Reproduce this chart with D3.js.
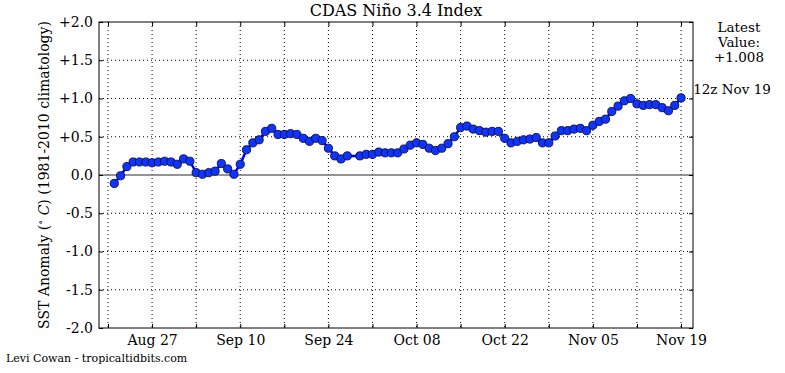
<!DOCTYPE html>
<html>
<head>
<meta charset="utf-8">
<script src="https://cdn.jsdelivr.net/npm/d3@7"></script>
<style>
  body { margin: 0; background: #fff; }
  text { font-family: "DejaVu Serif", serif; fill: #000; }
</style>
</head>
<body>
<div id="main"></div>
<script>
// daily values starting on firstDay (null = missing day)
const firstDay = "2018-08-21";
const anomaly = [
  -0.11, -0.01, 0.11, 0.17, 0.17, 0.17, 0.16, 0.17, 0.18, 0.17,
  0.14, 0.21, 0.18, 0.03, 0.01, 0.03, 0.05, 0.15, 0.08, 0.01,
  0.14, 0.33, 0.42, 0.46, 0.57, 0.61, 0.53, 0.53, 0.54, 0.53,
  0.48, 0.44, 0.48, 0.45, 0.35, 0.25, 0.21, 0.25, null, 0.25,
  0.27, 0.27, 0.30, 0.29, 0.29, 0.29, 0.34, 0.39, 0.42, 0.40,
  0.35, 0.32, 0.35, 0.41, 0.50, 0.62, 0.64, 0.60, 0.58, 0.56,
  0.57, 0.57, 0.48, 0.42, 0.44, 0.46, 0.47, 0.49, 0.42, 0.42,
  0.51, 0.58, 0.58, 0.60, 0.61, 0.58, 0.65, 0.70, 0.73, 0.83,
  0.90, 0.97, 1.00, 0.93, 0.91, 0.92, 0.92, 0.88, 0.84, 0.91,
  1.008
];
const yTicks = [-2.0, -1.5, -1.0, -0.5, 0.0, 0.5, 1.0, 1.5, 2.0];
const xTickDays = ["2018-08-20","2018-08-27","2018-09-03","2018-09-10","2018-09-17",
  "2018-09-24","2018-10-01","2018-10-08","2018-10-15","2018-10-22","2018-10-29",
  "2018-11-05","2018-11-12","2018-11-19"];
const xTickLabels = ["", "Aug 27", "", "Sep 10", "", "Sep 24", "", "Oct 08", "",
  "Oct 22", "", "Nov 05", "", "Nov 19"];
const latestText = ["Latest", "Value:", "+1.008"];
const latestTime = "12z Nov 19";

const w = 785, h = 373;
const padL = 99, padR = 693, padT = 22, padB = 328;
const DAY = 864e5;

const start = new Date(firstDay + "T00:00:00Z");
const points = anomaly.map((v, i) => ({ date: new Date(start.getTime() + i * DAY), v: v }))
  .filter(d => d.v !== null);
const last = points[points.length - 1].date;

const xScale = d3.scaleUtc()
  .domain([new Date(start.getTime() - 2.43 * DAY), new Date(last.getTime() + 1.9 * DAY)])
  .range([padL, padR]);
const yScale = d3.scaleLinear().domain([-2, 2]).range([padB, padT]);

const svg = d3.select("#main").append("svg")
  .attr("width", w).attr("height", h);

const tickDates = xTickDays.map(s => new Date(s + "T00:00:00Z"));
const fmtY = d => d > 0 ? "+" + d.toFixed(1) : d.toFixed(1);

// grid
svg.append("g").selectAll("line")
  .data(tickDates).enter().append("line")
  .attr("x1", d => xScale(d)).attr("x2", d => xScale(d))
  .attr("y1", padT).attr("y2", padB)
  .attr("stroke", "#000").attr("stroke-width", 1).attr("stroke-dasharray", "1,3");
svg.append("g").selectAll("line")
  .data(yTicks.filter(d => d > -2 && d < 2 && d !== 0)).enter().append("line")
  .attr("x1", padL).attr("x2", padR)
  .attr("y1", d => yScale(d)).attr("y2", d => yScale(d))
  .attr("stroke", "#000").attr("stroke-width", 1).attr("stroke-dasharray", "1,3");

// zero line
svg.append("line")
  .attr("x1", padL).attr("x2", padR)
  .attr("y1", yScale(0)).attr("y2", yScale(0))
  .attr("stroke", "#707070").attr("stroke-width", 1.5);

// axes (ticks point inward)
const xAxis = d3.axisBottom(xScale).tickValues(tickDates)
  .tickSizeInner(-4).tickSizeOuter(0).tickPadding(7)
  .tickFormat((d, i) => xTickLabels[i]);
const yAxis = d3.axisLeft(yScale).tickValues(yTicks)
  .tickSizeInner(-4).tickSizeOuter(0).tickPadding(6)
  .tickFormat(fmtY);

const gx = svg.append("g").attr("transform", "translate(0," + padB + ")").call(xAxis);
const gy = svg.append("g").attr("transform", "translate(" + padL + ",0)").call(yAxis);
svg.append("g").attr("transform", "translate(0," + padT + ")")
  .call(d3.axisTop(xScale).tickValues(tickDates).tickSizeInner(-4).tickSizeOuter(0).tickFormat(""));
svg.append("g").attr("transform", "translate(" + padR + ",0)")
  .call(d3.axisRight(yScale).tickValues(yTicks).tickSizeInner(-4).tickSizeOuter(0).tickFormat(""));
svg.selectAll(".domain").remove();
svg.selectAll(".tick line").attr("stroke", "#000");
[gx, gy].forEach(g => g.selectAll("text")
  .style("font-family", "DejaVu Serif").style("font-size", "14px").attr("fill", "#000"));

// frame
svg.append("rect")
  .attr("x", padL).attr("y", padT).attr("width", padR - padL).attr("height", padB - padT)
  .attr("fill", "none").attr("stroke", "#000").attr("stroke-width", 1);

// series
const line = d3.line().x(d => xScale(d.date)).y(d => yScale(d.v));
svg.append("path").datum(points)
  .attr("d", line).attr("fill", "none")
  .attr("stroke", "#0000ff").attr("stroke-width", 2.5);
svg.append("g").selectAll("circle")
  .data(points).enter().append("circle")
  .attr("cx", d => xScale(d.date)).attr("cy", d => yScale(d.v))
  .attr("r", 4.1)
  .attr("fill", "#1034ff").attr("stroke", "#0a0a3a").attr("stroke-width", 0.9);

// title
svg.append("text")
  .attr("x", (padL + padR) / 2).attr("y", 16)
  .attr("text-anchor", "middle").style("font-size", "16px")
  .text("CDAS Niño 3.4 Index");

// y label
const yl = svg.append("text")
  .attr("transform", "translate(49," + (padT + padB) / 2 + ") rotate(-90)")
  .attr("text-anchor", "middle").style("font-size", "14px");
yl.append("tspan").text("SST Anomaly (");
yl.append("tspan").attr("dy", -5).style("font-size", "10px").text("∘");
yl.append("tspan").attr("dy", 5).style("font-style", "italic").text(" C");
yl.append("tspan").text(") (1981-2010 climatology)");

// latest value
svg.append("g").selectAll("text")
  .data(latestText).enter().append("text")
  .attr("x", 739).attr("y", (d, i) => 32 + i * 15)
  .attr("text-anchor", "middle").style("font-size", "13.5px")
  .text(d => d);
svg.append("text")
  .attr("x", 732).attr("y", 94)
  .attr("text-anchor", "middle").style("font-size", "13.5px")
  .text(latestTime);

// credit
svg.append("text")
  .attr("x", 6).attr("y", 362).style("font-size", "11px")
  .text("Levi Cowan - tropicaltidbits.com");
</script>
</body>
</html>
